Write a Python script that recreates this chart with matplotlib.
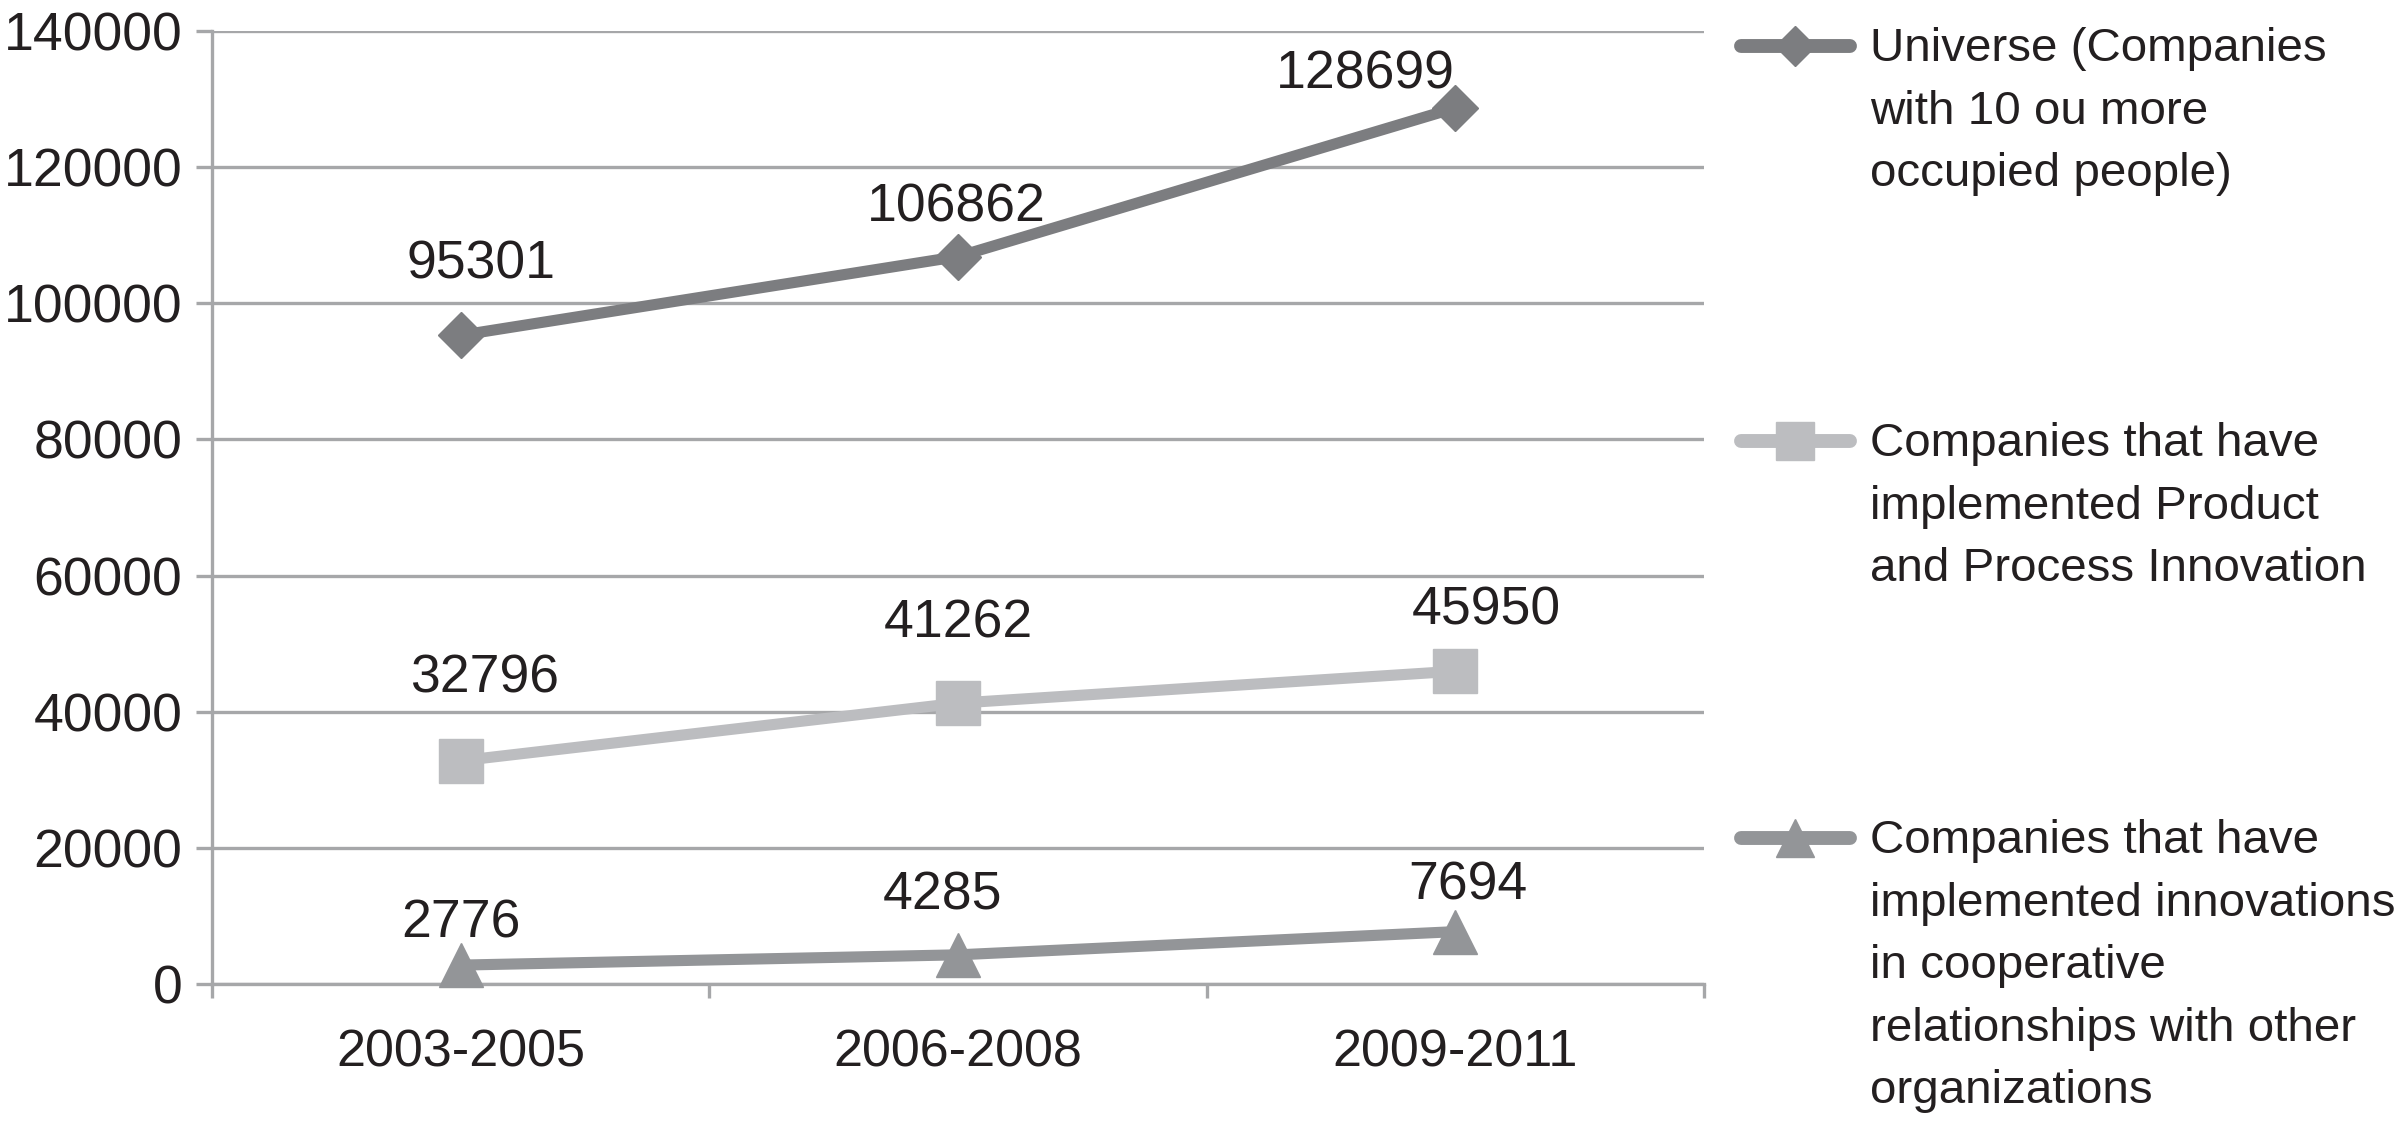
import matplotlib
matplotlib.use("Agg")
import matplotlib.pyplot as plt
from matplotlib.lines import Line2D

plt.rcParams['font.family'] = ['Liberation Sans', 'DejaVu Sans']

# ---- data ----
periods = ["2003-2005", "2006-2008", "2009-2011"]
universe = [95301, 106862, 128699]
product_process = [32796, 41262, 45950]
cooperative = [2776, 4285, 7694]
series_labels = [
    "Universe (Companies\nwith 10 ou more\noccupied people)",
    "Companies that have\nimplemented Product\nand Process Innovation",
    "Companies that have\nimplemented innovations\nin cooperative\nrelationships with other\norganizations",
]
yticks = [0, 20000, 40000, 60000, 80000, 100000, 120000, 140000]

# ---- style ----
colors = ["#7c7d80", "#bcbdc0", "#939598"]
markers = ["D", "s", "^"]
msizes = [23, 31, 31]
grid_c = "#a6a7a9"
text_c = "#231f20"
# label offsets (points) relative to each marker
label_offsets = [
    [(15, 51), (-1, 35), (-65, 24)],
    [(17, 59), (0, 57), (22, 44)],
    [(0, 30), (-11, 43), (9, 33)],
]

W, H = 2407, 1121
fig = plt.figure(figsize=(W / 100, H / 100), dpi=100)
ax = fig.add_axes([212 / W, (H - 984) / H, (1704 - 212) / W, (984 - 31) / H])

x = list(range(len(periods)))
all_series = [universe, product_process, cooperative]
for vals, c, m, ms, offs in zip(all_series, colors, markers, msizes, label_offsets):
    ax.plot(x, vals, color=c, lw=8, marker=m, ms=ms, mec=c, mfc=c,
            solid_capstyle="butt", zorder=3, clip_on=False)
    for xi, v, (dx, dy) in zip(x, vals, offs):
        ax.annotate(str(v), (xi, v), xytext=(dx, dy), textcoords="offset points",
                    ha="center", va="center", fontsize=38.5, color=text_c, zorder=4)

ax.set_xlim(-0.5, 2.5)
ax.set_ylim(0, 140000)
ax.set_yticks(yticks)
ax.set_yticklabels([str(t) for t in yticks])
ax.yaxis.grid(True, color=grid_c, lw=2.4)
ax.set_axisbelow(True)

ax.set_xticks([-0.5, 0.5, 1.5, 2.5])
ax.set_xticklabels([])
ax.set_xticks(x, minor=True)
ax.set_xticklabels(periods, minor=True)
ax.tick_params(axis="x", which="major", length=10, width=2.4, color=grid_c, direction="out")
ax.tick_params(axis="x", which="minor", length=0, pad=32, labelsize=37.5, labelcolor=text_c)
ax.tick_params(axis="y", length=11.5, width=2.4, color=grid_c, pad=10,
               labelsize=38.5, labelcolor=text_c)

for s in ["top", "right"]:
    ax.spines[s].set_visible(False)
for s in ["left", "bottom"]:
    ax.spines[s].set_color(grid_c)
    ax.spines[s].set_linewidth(2.4)

# ---- legend (manual, first text line aligned with handle) ----
leg_y = [46, 441, 838]
for lab, c, m, ms, yy in zip(series_labels, colors, markers, msizes, leg_y):
    yf = (H - yy) / H
    fig.add_artist(Line2D([1741 / W, 1850 / W], [yf, yf], transform=fig.transFigure,
                          color=c, lw=10, solid_capstyle="round"))
    fig.add_artist(Line2D([1795 / W], [yf], transform=fig.transFigure, color=c,
                          marker=m, ms=ms * 0.9, mec=c, mfc=c, lw=0))
    fig.text(1870 / W, yf + 19 / H, lab, ha="left", va="top", fontsize=34.2,
             color=text_c, linespacing=1.545)

fig.savefig("out.png", dpi=100, facecolor="white")
